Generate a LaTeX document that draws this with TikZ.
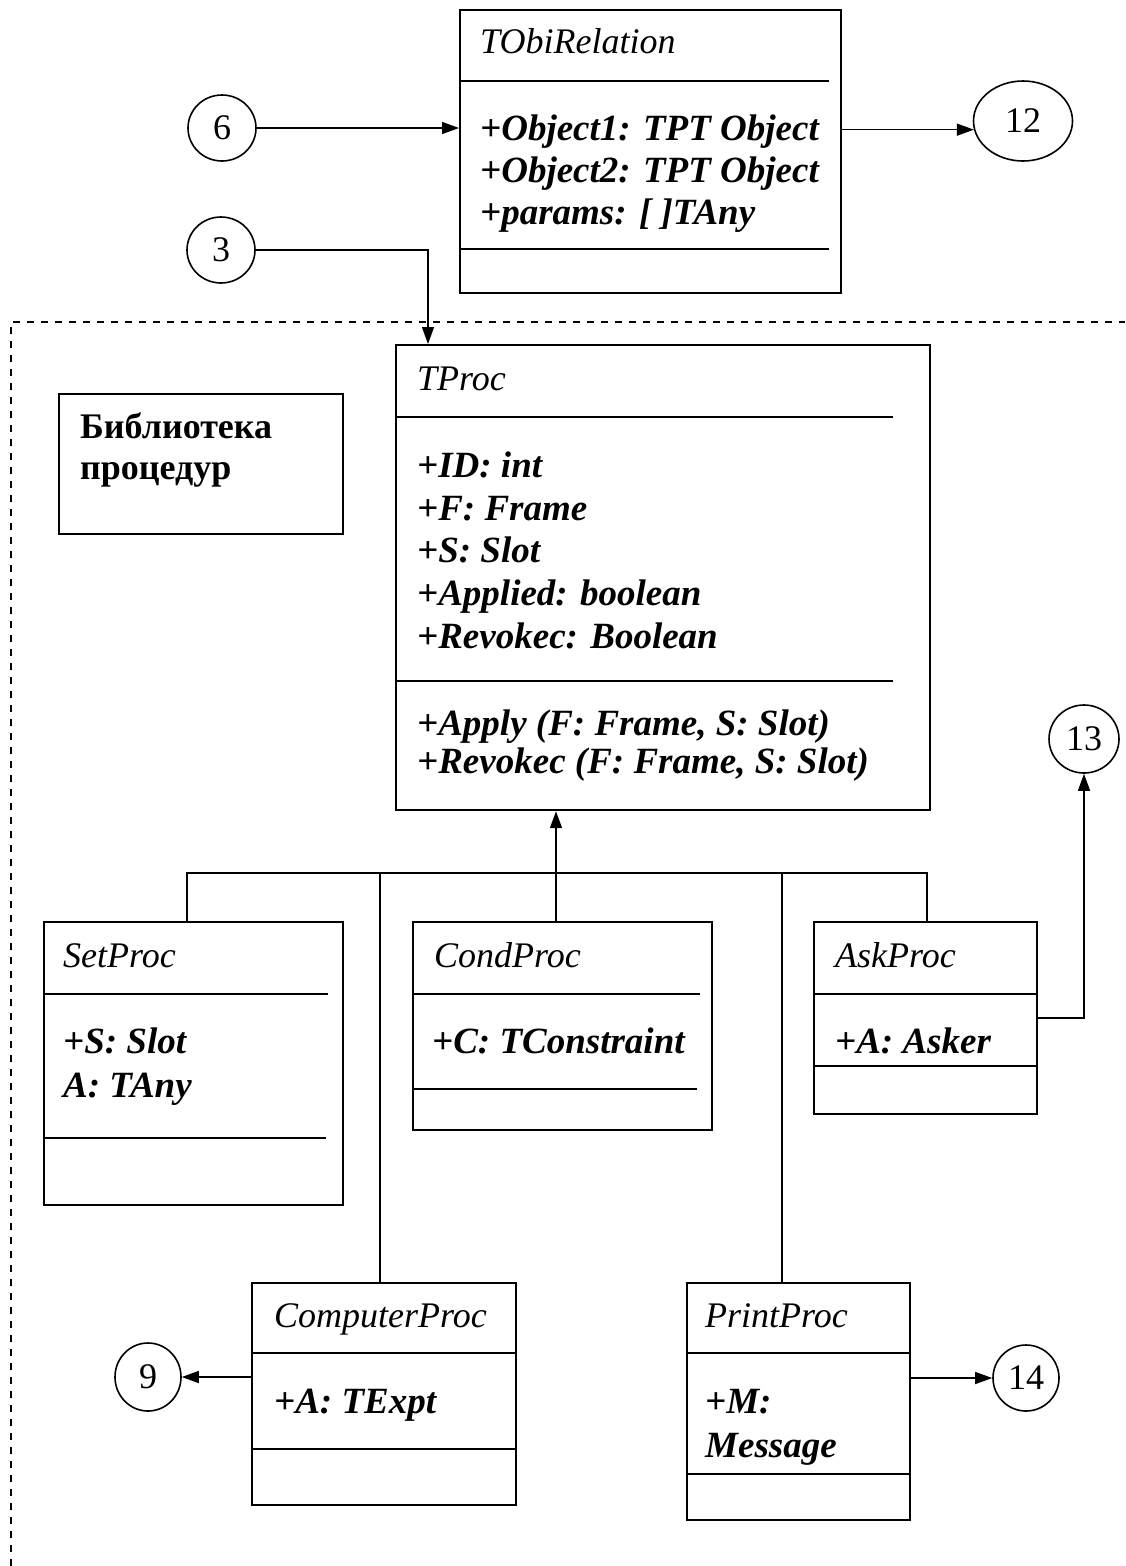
\documentclass[tikz,border=0pt]{standalone}
\usepackage{fontspec}
\setmainfont{Liberation Serif}
\usetikzlibrary{arrows.meta,shapes.geometric}

\tikzset{
  umlbox/.style={draw, line width=2.2pt, anchor=north west, inner sep=0pt, fill=white},
  divider/.style={line width=2.4pt},
  conn/.style={line width=1.4pt},
  arr/.style={conn, -{Triangle[length=17pt,width=12pt]}},
  port/.style={draw, ellipse, line width=1.6pt, inner sep=0pt, font=\fontsize{36}{42}\selectfont},
  title/.style={anchor=base west, inner sep=0pt, font=\fontsize{36}{42}\selectfont\itshape},
  attr/.style={anchor=base west, inner sep=0pt, font=\fontsize{37}{42}\selectfont\bfseries\itshape},
  libtext/.style={anchor=base west, inner sep=0pt, font=\fontsize{36}{42}\selectfont\bfseries},
  libborder/.style={line width=1.8pt, dash pattern=on 7pt off 7pt}
}

\begin{document}
\begin{tikzpicture}[x=1pt,y=-1pt]
\useasboundingbox (0,0) rectangle (1125,1566);

% library boundary
\draw[libborder] (11,1566) -- (11,322) -- (1125,322);

% ---------- TObiRelation ----------
\node[umlbox, minimum width=381pt, minimum height=283pt] (tobi) at (459,9) {};
\draw[divider] (459,81) -- (829,81);
\draw[divider] (459,249) -- (829,249);
\node[title] (tobiT) at (480,53) {TObiRelation};
\node[attr] (tobiA1) at (480,140) {+Object1: TPT Object};
\node[attr] (tobiA2) at (480,182) {+Object2: TPT Object};
\node[attr] (tobiA3) at (480,224) {+params: [ ]TAny};

% ---------- TProc ----------
\node[umlbox, minimum width=534pt, minimum height=465pt] (tproc) at (395,344) {};
\draw[divider] (395,417) -- (893,417);
\draw[divider] (395,681) -- (893,681);
\node[title] (tprocT) at (417,390) {TProc};
\node[attr] (tprocA1) at (417,477) {+ID: int};
\node[attr] (tprocA2) at (417,520) {+F: Frame};
\node[attr] (tprocA3) at (417,562) {+S: Slot};
\node[attr] (tprocA4) at (417,605) {+Applied: boolean};
\node[attr] (tprocA5) at (417,648) {+Revokec: Boolean};
\node[attr] (tprocM1) at (417,735) {+Apply (F: Frame, S: Slot)};
\node[attr] (tprocM2) at (417,773) {+Revokec (F: Frame, S: Slot)};

% ---------- library label ----------
\node[umlbox, minimum width=284pt, minimum height=140pt] (lib) at (58,393) {};
\node[libtext] (libL1) at (80,438) {Библиотека};
\node[libtext] (libL2) at (80,479) {процедур};

% ---------- SetProc ----------
\node[umlbox, minimum width=299pt, minimum height=283pt] (setproc) at (43,921) {};
\draw[divider] (43,994) -- (328,994);
\draw[divider] (43,1138) -- (326,1138);
\node[title] (setT) at (63,967) {SetProc};
\node[attr] (setA1) at (63,1053) {+S: Slot};
\node[attr] (setA2) at (63,1097) {A: TAny};

% ---------- CondProc ----------
\node[umlbox, minimum width=299pt, minimum height=208pt] (condproc) at (412,921) {};
\draw[divider] (412,994) -- (700,994);
\draw[divider] (412,1089) -- (697,1089);
\node[title] (condT) at (434,967) {CondProc};
\node[attr] (condA1) at (432,1053) {+C: TConstraint};

% ---------- AskProc ----------
\node[umlbox, minimum width=223pt, minimum height=192pt] (askproc) at (813,921) {};
\draw[divider] (813,994) -- (1036,994);
\draw[divider] (813,1066) -- (1036,1066);
\node[title] (askT) at (835,967) {AskProc};
\node[attr] (askA1) at (835,1053) {+A: Asker};

% ---------- ComputerProc ----------
\node[umlbox, minimum width=264pt, minimum height=222pt] (compproc) at (251,1282) {};
\draw[divider] (251,1353) -- (515,1353);
\draw[divider] (251,1449) -- (515,1449);
\node[title] (compT) at (274,1327) {ComputerProc};
\node[attr] (compA1) at (274,1413) {+A: TExpt};

% ---------- PrintProc ----------
\node[umlbox, minimum width=223pt, minimum height=237pt] (printproc) at (686,1282) {};
\draw[divider] (686,1353) -- (909,1353);
\draw[divider] (686,1474) -- (909,1474);
\node[title] (printT) at (705,1327) {PrintProc};
\node[attr] (printA1) at (705,1413) {+M:};
\node[attr] (printA2) at (705,1457) {Message};

% ---------- ports ----------
\node[port, minimum width=68pt, minimum height=66pt] (c6) at (222,128) {6};
\node[port, minimum width=68pt, minimum height=66pt] (c3) at (221,250) {3};
\node[port, minimum width=99pt, minimum height=80pt] (c12) at (1023,121) {12};
\node[port, minimum width=70pt, minimum height=68pt] (c13) at (1084,739) {13};
\node[port, minimum width=66pt, minimum height=68pt] (c9) at (148,1377) {9};
\node[port, minimum width=66pt, minimum height=66pt] (c14) at (1026,1378) {14};

% ---------- connectors ----------
\draw[arr] (c6.east) -- (c6.east -| tobi.west);
\draw[arr] (tobi.east |- c12.190) -- (c12.190);
\coordinate (in3) at (428,344);
\draw[arr] (c3.east) -| (in3);

% generalization tree
\coordinate (bus) at (556,873);
\coordinate (xset) at (187,873);
\coordinate (xcomp) at (380,873);
\coordinate (xprint) at (782,873);
\coordinate (xask) at (927,873);
\draw[arr] (condproc.north -| bus) -- (tproc.south -| bus);
\draw[conn] (setproc.north -| xset) -- (xset) -- (xask) -- (askproc.north -| xask);
\draw[conn] (xcomp) -- (compproc.north -| xcomp);
\draw[conn] (xprint) -- (printproc.north -| xprint);

\coordinate (ask13) at (1036,1018);
\draw[arr] (ask13) -| (c13.south);
\draw[arr] (compproc.west |- c9.east) -- (c9.east);
\draw[arr] (printproc.east |- c14.west) -- (c14.west);
\end{tikzpicture}
\end{document}
